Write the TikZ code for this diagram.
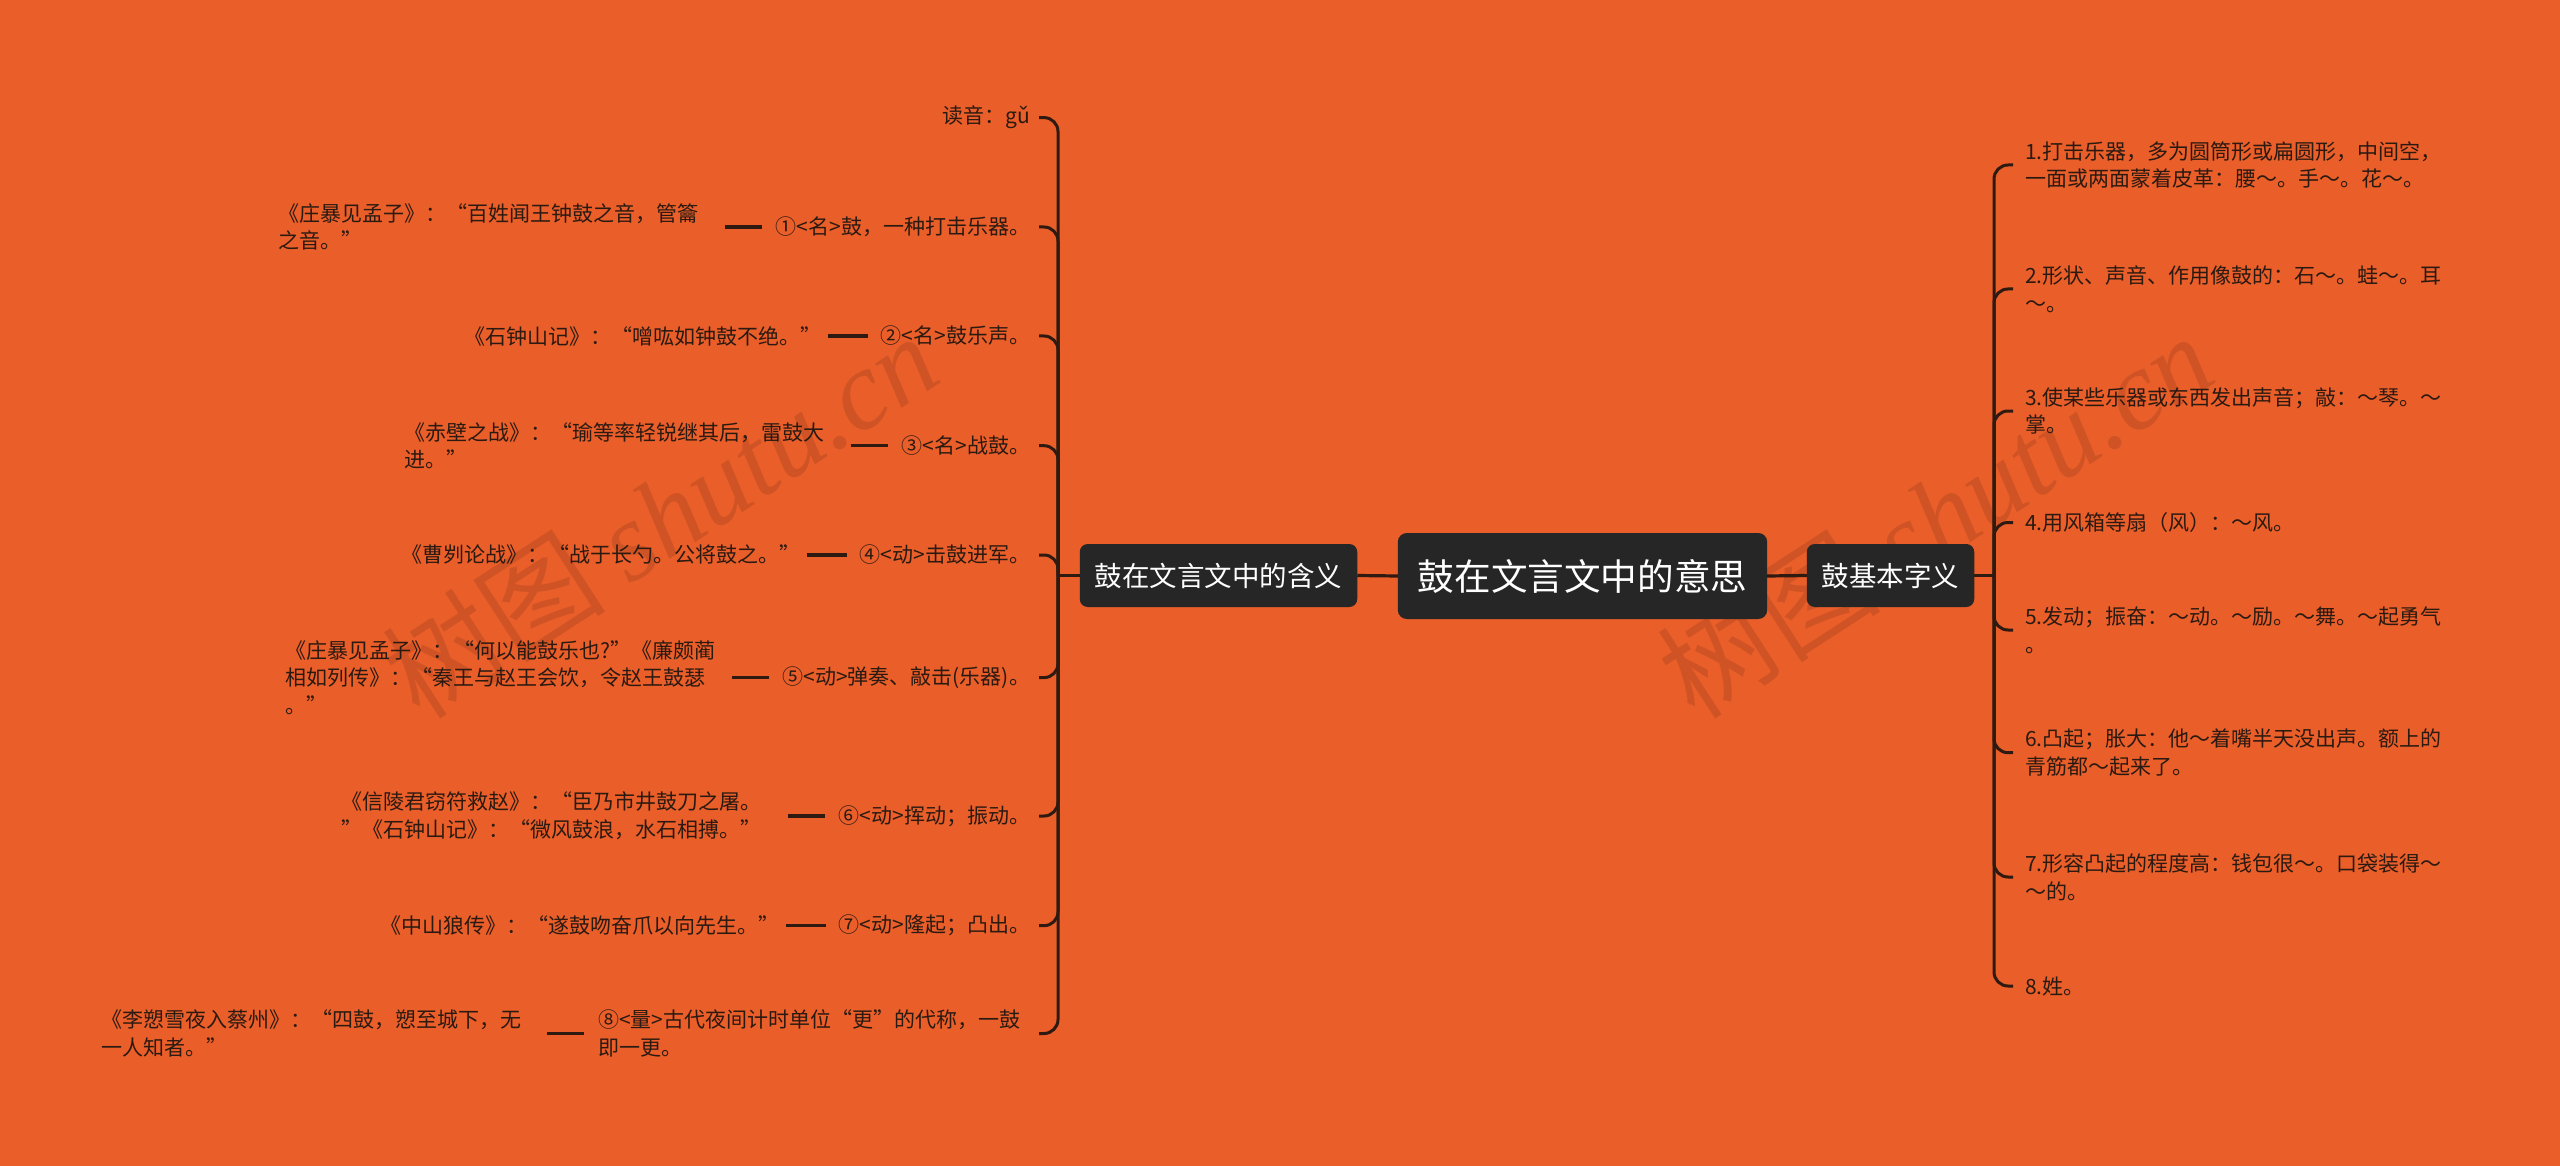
\documentclass[tikz,border=0pt]{standalone}
\usepackage{fontspec}
\setmainfont{Noto Sans CJK SC}
\newfontfamily\wmlat{Liberation Serif}
\usetikzlibrary{positioning}
\definecolor{bgc}{HTML}{E95E29}
\definecolor{nodec}{HTML}{262626}
\definecolor{linec}{HTML}{2E1A10}
\definecolor{txtc}{HTML}{2B1A12}
\newcommand\smfs{\fontsize{10.5pt}{13.9pt}\selectfont}
\newcommand\midfs{\fontsize{13.75pt}{16pt}\selectfont}
\newcommand\bigfs{\fontsize{18.3pt}{22pt}\selectfont}
\newcommand\wmfs{\fontsize{56pt}{56pt}\selectfont}
\begin{document}
\begin{tikzpicture}[x=0.5pt,y=-0.5pt,
 every node/.style={inner sep=0pt, outer sep=0pt},
 txt/.style={font=\smfs, text=txtc, align=left},
 subm/.style={txt, text width=222pt},
 midnode/.style={fill=nodec, rounded corners=4pt, text=white, font=\midfs, minimum height=31.5pt, inner xsep=7.5pt},
 rootnode/.style={fill=nodec, rounded corners=4.5pt, text=white, font=\bigfs, minimum height=43pt, inner xsep=10pt},
 conn/.style={draw=linec, line width=1.6pt},
 br/.style={draw=linec, line width=1.5pt, rounded corners=7pt},
 subc/.style={draw=linec, line width=1.7pt},
 wm/.style={font=\wmfs, text=black, opacity=0.11}
]
\fill[bgc] (0,0) rectangle (2560,1166);
\useasboundingbox (0,0) rectangle (2560,1166);

% watermarks
\node[wm, rotate=33] (wm1) at (660,515) {树图 {\wmlat\itshape shutu.cn}};
\node[wm, rotate=33] (wm2) at (1935,515) {树图 {\wmlat\itshape shutu.cn}};

% central nodes
\node[rootnode] (root) at (1582.5,576) {鼓在文言文中的意思};
\node[midnode] (lnode) at (1218.5,575.5) {鼓在文言文中的含义};
\node[midnode] (rnode) at (1890.5,575.5) {鼓基本字义};
\draw[conn] (lnode.east) -- (root.west);
\draw[conn] (root.east) -- (rnode.west);

\coordinate (hubL) at (1058,575.5);
\coordinate (hubR) at (1994,575.5);
\draw[conn] (lnode.west) -- (hubL);
\draw[conn] (rnode.east) -- (hubR);

% left items
\node[txt, anchor=east] (m0) at (1030,117.6) {读音：gǔ};
\node[txt, anchor=east] (m1) at (1030,227) {①<名>鼓，一种打击乐器。};
\node[txt, anchor=east] (m2) at (1030,336) {②<名>鼓乐声。};
\node[txt, anchor=east] (m3) at (1030,445.7) {③<名>战鼓。};
\node[txt, anchor=east] (m4) at (1030,555) {④<动>击鼓进军。};
\node[txt, anchor=east] (m5) at (1030,677.6) {⑤<动>弹奏、敲击(乐器)。};
\node[txt, anchor=east] (m6) at (1030,816) {⑥<动>挥动；振动。};
\node[txt, anchor=east] (m7) at (1030,925.7) {⑦<动>隆起；凸出。};
\node[txt, anchor=east, text width=216pt] (m8) at (1030,1033.5) {⑧<量>古代夜间计时单位“更”的代称，一鼓\\即一更。};

\foreach \m in {m0,m1,m2,m3,m4,m5,m6,m7,m8}
  \draw[br, shorten >=4.5pt] (hubL) -- (hubL |- \m.east) -- (\m.east);

% left sub items
\node[subm, left=26.5pt of m1] (s1) {《庄暴见孟子》：“百姓闻王钟鼓之音，管籥\\之音。”};
\node[txt, left=29.5pt of m2] (s2) {《石钟山记》：“噌吰如钟鼓不绝。”};
\node[subm, left=26.5pt of m3] (s3) {《赤壁之战》：“瑜等率轻锐继其后，雷鼓大\\进。”};
\node[txt, left=29.5pt of m4] (s4) {《曹刿论战》：“战于长勺。公将鼓之。”};
\node[subm, left=26.5pt of m5] (s5) {《庄暴见孟子》：“何以能鼓乐也?”《廉颇蔺\\相如列传》：“秦王与赵王会饮，令赵王鼓瑟\\。”};
\node[subm, left=26.5pt of m6] (s6) {《信陵君窃符救赵》：“臣乃市井鼓刀之屠。\\”《石钟山记》：“微风鼓浪，水石相搏。”};
\node[txt, left=29.5pt of m7] (s7) {《中山狼传》：“遂鼓吻奋爪以向先生。”};
\node[subm, left=26.5pt of m8] (s8) {《李愬雪夜入蔡州》：“四鼓，愬至城下，无\\一人知者。”};

\foreach \s/\m in {s1/m1,s3/m3,s5/m5,s6/m6,s8/m8}
  \draw[subc, shorten <=1pt, shorten >=7pt] (\s.east) -- (\m.west);
\foreach \s/\m in {s2/m2,s4/m4,s7/m7}
  \draw[subc, shorten <=3pt, shorten >=6.5pt] (\s.east) -- (\m.west);

% right items
\node[txt, anchor=west] (r1) at (2025,165) {1.打击乐器，多为圆筒形或扁圆形，中间空，\\一面或两面蒙着皮革：腰～。手～。花～。};
\node[txt, anchor=west] (r2) at (2025,289) {2.形状、声音、作用像鼓的：石～。蛙～。耳\\～。};
\node[txt, anchor=west] (r3) at (2025,411) {3.使某些乐器或东西发出声音；敲：～琴。～\\掌。};
\node[txt, anchor=west] (r4) at (2025,522.5) {4.用风箱等扇（风）：～风。};
\node[txt, anchor=west] (r5) at (2025,630) {5.发动；振奋：～动。～励。～舞。～起勇气\\。};
\node[txt, anchor=west] (r6) at (2025,752.7) {6.凸起；胀大：他～着嘴半天没出声。额上的\\青筋都～起来了。};
\node[txt, anchor=west] (r7) at (2025,877) {7.形容凸起的程度高：钱包很～。口袋装得～\\～的。};
\node[txt, anchor=west] (r8) at (2025,986) {8.姓。};

\foreach \r in {r1,r2,r3,r4,r5,r6,r7,r8}
  \draw[br, shorten >=6pt] (hubR) -- (hubR |- \r.west) -- (\r.west);
\end{tikzpicture}
\end{document}
